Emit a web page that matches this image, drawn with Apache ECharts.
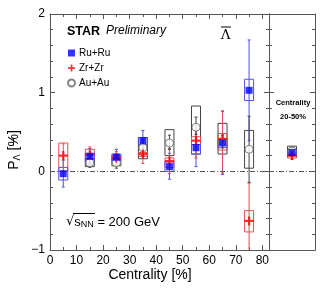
<!DOCTYPE html>
<html><head><meta charset="utf-8">
<script src="https://cdn.jsdelivr.net/npm/echarts@6/dist/echarts.min.js"></script>
<style>html,body{margin:0;padding:0;background:#fff}#c{width:327px;height:289px}</style>
</head><body><div id="c"></div>
<script>
// ---- data ----
var centrality = [5, 15, 25, 35, 45, 55, 65, 75];
var xTicks = [0, 10, 20, 30, 40, 50, 60, 70, 80];
var yTicks = [-1, 0, 1, 2];
// Ru+Ru
var ruVal    = [-0.03, 0.19, 0.18, 0.39, 0.06, 0.30, 0.36, 1.03];
var ruStatLo = [-0.20, 0.09, 0.08, 0.26, -0.10, 0.06, -0.04, 0.39];
var ruStatHi = [0.14, 0.29, 0.28, 0.52, 0.23, 0.52, 0.76, 1.67];
var ruSysLo  = [-0.11, 0.11, 0.14, 0.34, 0.00, 0.22, 0.30, 0.90];
var ruSysHi  = [0.05, 0.23, 0.22, 0.43, 0.12, 0.34, 0.40, 1.17];
// Zr+Zr
var zrVal    = [0.20, 0.21, 0.17, 0.22, 0.13, 0.39, 0.41, -0.63];
var zrStatLo = [0.05, 0.11, 0.09, 0.10, -0.03, 0.17, -0.02, -1.13];
var zrStatHi = [0.35, 0.31, 0.25, 0.29, 0.29, 0.53, 0.77, -0.15];
var zrSysLo  = [0.00, 0.15, 0.14, 0.19, 0.05, 0.34, 0.27, -0.77];
var zrSysHi  = [0.36, 0.28, 0.20, 0.24, 0.17, 0.44, 0.48, -0.50];
// Au+Au
var auVal    = [null, 0.11, 0.11, 0.30, 0.36, 0.56, 0.38, 0.28];
var auStatLo = [null, 0.05, 0.04, 0.20, 0.28, 0.47, 0.30, -0.14];
var auStatHi = [null, 0.17, 0.18, 0.40, 0.46, 0.69, 0.46, 0.70];
var auSysLo  = [null, 0.06, 0.07, 0.16, 0.20, 0.22, 0.22, 0.04];
var auSysHi  = [null, 0.16, 0.15, 0.43, 0.53, 0.83, 0.61, 0.52];
// 20-50% integrated panel
var intX = [0.5];
var intRu = [0.24], intRuStat = [[0.19, 0.30]], intRuSys = [[0.20, 0.28]];
var intZr = [0.20], intZrStat = [[0.15, 0.25]], intZrSys = [[0.17, 0.23]];
var intAu = [0.26], intAuStat = [[0.21, 0.31]], intAuSys = [[0.21, 0.32]];

function rows(xs, v, sl, sh, yl, yh) {
  var out = [];
  for (var i = 0; i < xs.length; i++) {
    if (v[i] === null) continue;
    out.push([xs[i], v[i], sl[i], sh[i], yl[i], yh[i]]);
  }
  return out;
}
var ruRows = rows(centrality, ruVal, ruStatLo, ruStatHi, ruSysLo, ruSysHi);
var zrRows = rows(centrality, zrVal, zrStatLo, zrStatHi, zrSysLo, zrSysHi);
var auRows = rows(centrality, auVal, auStatLo, auStatHi, auSysLo, auSysHi);
var ruInt = [[intX[0], intRu[0], intRuStat[0][0], intRuStat[0][1], intRuSys[0][0], intRuSys[0][1]]];
var zrInt = [[intX[0], intZr[0], intZrStat[0][0], intZrStat[0][1], intZrSys[0][0], intZrSys[0][1]]];
var auInt = [[intX[0], intAu[0], intAuStat[0][0], intAuStat[0][1], intAuSys[0][0], intAuSys[0][1]]];

function boxSeries(data, color, xi, yi, z) {
  return {
    type: 'custom', xAxisIndex: xi, yAxisIndex: yi, z: z, silent: true,
    data: data,
    clip: false,
    renderItem: function (params, api) {
      var x = api.value(0);
      var pLo = api.coord([x, api.value(4)]);
      var pHi = api.coord([x, api.value(5)]);
      var hw = 4.5;
      return {
        type: 'rect',
        shape: { x: pLo[0] - hw, y: pHi[1], width: 2 * hw, height: pLo[1] - pHi[1] },
        style: { fill: 'none', stroke: color, lineWidth: 1 }
      };
    }
  };
}
function errSeries(data, color, xi, yi, z) {
  return {
    type: 'custom', xAxisIndex: xi, yAxisIndex: yi, z: z, silent: true,
    data: data,
    clip: true,
    renderItem: function (params, api) {
      var x = api.value(0);
      var pLo = api.coord([x, api.value(2)]);
      var pHi = api.coord([x, api.value(3)]);
      var c = 1.5;
      return {
        type: 'group',
        children: [
          { type: 'line', shape: { x1: pLo[0], y1: pLo[1], x2: pHi[0], y2: pHi[1] }, style: { stroke: color, lineWidth: 1 } },
          { type: 'line', shape: { x1: pLo[0] - c, y1: pLo[1], x2: pLo[0] + c, y2: pLo[1] }, style: { stroke: color, lineWidth: 1 } },
          { type: 'line', shape: { x1: pHi[0] - c, y1: pHi[1], x2: pHi[0] + c, y2: pHi[1] }, style: { stroke: color, lineWidth: 1 } }
        ]
      };
    }
  };
}
var plusPath = 'path://M3,0H5V3H8V5H5V8H3V5H0V3H3Z';
function markerSeries(name, data, xi, yi, z, sym, size, style) {
  return {
    name: name, type: 'scatter', xAxisIndex: xi, yAxisIndex: yi, z: z, silent: true,
    symbol: sym, symbolSize: size, itemStyle: style,
    data: data.map(function (r) { return [r[0], r[1]]; })
  };
}

var axisCol = '#555';
var lblFont = { fontFamily: 'Liberation Sans, Arial', fontSize: 12, color: '#000' };
function xAx(grid, pos, labels, main) {
  var o = {
    type: 'value', gridIndex: grid, position: pos,
    min: 0, max: main ? 82.5 : 1, interval: main ? 10 : 1,
    axisLine: { show: true, onZero: false, lineStyle: { color: axisCol, width: 1 } },
    axisTick: { show: main, inside: true, length: 5, lineStyle: { color: axisCol } },
    minorTick: { show: main, splitNumber: 2, length: 3, lineStyle: { color: axisCol } },
    splitLine: { show: false },
    axisLabel: { show: labels, margin: 5, showMaxLabel: false, fontFamily: lblFont.fontFamily, fontSize: 12, color: '#000',
      formatter: function (v) { return xTicks.indexOf(v) >= 0 ? String(v) : ''; } }
  };
  return o;
}
function yAx(grid, pos, labels) {
  return {
    type: 'value', gridIndex: grid, position: pos,
    min: -1, max: 2, interval: 1,
    axisLine: { show: true, onZero: false, lineStyle: { color: axisCol, width: 1 } },
    axisTick: { show: true, inside: true, length: 5, lineStyle: { color: axisCol } },
    minorTick: { show: true, splitNumber: 5, length: 3, lineStyle: { color: axisCol } },
    splitLine: { show: false },
    axisLabel: { show: labels, margin: 5, fontFamily: lblFont.fontFamily, fontSize: 12, color: '#000',
      formatter: function (v) { return yTicks.indexOf(v) >= 0 ? (v < 0 ? '\u2212' + (-v) : String(v)) : ''; } }
  };
}

var blue = '#0000ff', blueLine = '#5050e0', red = '#ff0000', redLine = '#e05050', gray = '#444';
var zeroLine = {
  type: 'line', xAxisIndex: 0, yAxisIndex: 0, data: [], silent: true,
  markLine: { symbol: 'none', silent: true, label: { show: false },
    lineStyle: { color: '#555', type: [5, 2, 1, 2], width: 1 }, data: [{ yAxis: 0 }] }
};
var zeroLine2 = {
  type: 'line', xAxisIndex: 2, yAxisIndex: 2, data: [], silent: true,
  markLine: { symbol: 'none', silent: true, label: { show: false },
    lineStyle: { color: '#555', type: [5, 2, 1, 2], width: 1 }, data: [{ yAxis: 0 }] }
};

var series = [zeroLine, zeroLine2,
  boxSeries(auRows, gray, 0, 0, 2), boxSeries(zrRows, redLine, 0, 0, 2), boxSeries(ruRows, blueLine, 0, 0, 2),
  errSeries(ruRows, blueLine, 0, 0, 3), errSeries(zrRows, redLine, 0, 0, 3), errSeries(auRows, gray, 0, 0, 3),
  markerSeries('Au+Au', auRows, 0, 0, 4, 'circle', 8, { color: '#fff', borderColor: '#666', borderWidth: 1 }),
  markerSeries('Zr+Zr', zrRows, 0, 0, 5, plusPath, 9, { color: red }),
  markerSeries('Ru+Ru', ruRows, 0, 0, 6, 'rect', 7, { color: blue }),
  boxSeries(auInt, gray, 2, 2, 2), boxSeries(zrInt, redLine, 2, 2, 2), boxSeries(ruInt, blueLine, 2, 2, 2),
  errSeries(ruInt, blueLine, 2, 2, 3), errSeries(zrInt, redLine, 2, 2, 3), errSeries(auInt, gray, 2, 2, 3),
  markerSeries('Au+Au', auInt, 2, 2, 4, 'circle', 8, { color: '#fff', borderColor: '#666', borderWidth: 1 }),
  markerSeries('Zr+Zr', zrInt, 2, 2, 5, plusPath, 9, { color: red }),
  markerSeries('Ru+Ru', ruInt, 2, 2, 6, 'rect', 7, { color: blue })
];

var chart = echarts.init(document.getElementById('c'), null, { renderer: 'canvas' });
chart.setOption({
  animation: false,
  backgroundColor: '#fff',
  grid: [
    { left: 50, top: 14, width: 219, height: 236 },
    { left: 269, top: 14, width: 46, height: 236 }
  ],
  xAxis: [xAx(0, 'bottom', true, true), xAx(0, 'top', false, true), xAx(1, 'bottom', false, false), xAx(1, 'top', false, false)],
  yAxis: [yAx(0, 'left', true), yAx(0, 'right', false), yAx(1, 'left', false), yAx(1, 'right', false)],
  legend: {
    data: ['Ru+Ru', 'Zr+Zr', 'Au+Au'], orient: 'vertical', left: 67, top: 47,
    itemWidth: 7, itemHeight: 7, itemGap: 3, padding: 0, selectedMode: false,
    textStyle: { fontFamily: 'Liberation Sans, Arial', fontSize: 10, lineHeight: 12, color: '#000', padding: [0, 0, 0, -1] }
  },
  graphic: [
    { type: 'text', left: 67, top: 25, style: { text: 'STAR', font: 'bold 12.5px Liberation Sans, Arial', fill: '#000' } },
    { type: 'text', left: 106, top: 25, style: { text: 'Preliminary', font: 'italic 12px Liberation Sans, Arial', fill: '#000' } },
    { type: 'text', left: 221, top: 29, style: { text: 'Λ', font: '13px DejaVu Serif, serif', fill: '#000' } },
    { type: 'line', shape: { x1: 221, y1: 27, x2: 231, y2: 27 }, style: { stroke: '#000', lineWidth: 1 } },
    { type: 'text', x: 293, y: 103, style: { text: 'Centrality', font: 'bold 7.5px Liberation Sans, Arial', fill: '#000', align: 'center', verticalAlign: 'middle' } },
    { type: 'text', x: 293, y: 117, style: { text: '20-50%', font: 'bold 7.5px Liberation Sans, Arial', fill: '#000', align: 'center', verticalAlign: 'middle' } },
    { type: 'text', x: 66, y: 222, style: {
        text: '{r|√}{s|s}{n|NN}{t| = 200 GeV}', verticalAlign: 'middle',
        rich: {
          r: { fontFamily: 'DejaVu Sans', fontSize: 13, fill: '#000' },
          s: { fontFamily: 'Liberation Sans, Arial', fontSize: 13, fill: '#000' },
          n: { fontFamily: 'Liberation Sans, Arial', fontSize: 9, fill: '#000', verticalAlign: 'bottom', padding: [6, 0, 0, 0] },
          t: { fontFamily: 'Liberation Sans, Arial', fontSize: 13, fill: '#000' }
        } } },
    { type: 'line', shape: { x1: 73, y1: 213.5, x2: 95, y2: 213.5 }, style: { stroke: '#000', lineWidth: 1 } },
    { type: 'text', x: 150, y: 275, style: { text: 'Centrality [%]', font: '14px Liberation Sans, Arial', fill: '#000', align: 'center', verticalAlign: 'middle' } },
    { type: 'text', x: 14, y: 150, rotation: Math.PI / 2, style: {
        text: '{p|P}{s|Λ}{p| [%]}', align: 'center', verticalAlign: 'middle',
        rich: {
          p: { fontFamily: 'Liberation Sans, Arial', fontSize: 14, fill: '#000' },
          s: { fontFamily: 'DejaVu Sans', fontSize: 9, fill: '#000', padding: [8, 0, 0, 0] }
        } } },
    { type: 'line', shape: { x1: 13.5, y1: 139, x2: 13.5, y2: 145.5 }, style: { stroke: '#000', lineWidth: 0.8 } }
  ],
  series: series
});
</script>
</body></html>
